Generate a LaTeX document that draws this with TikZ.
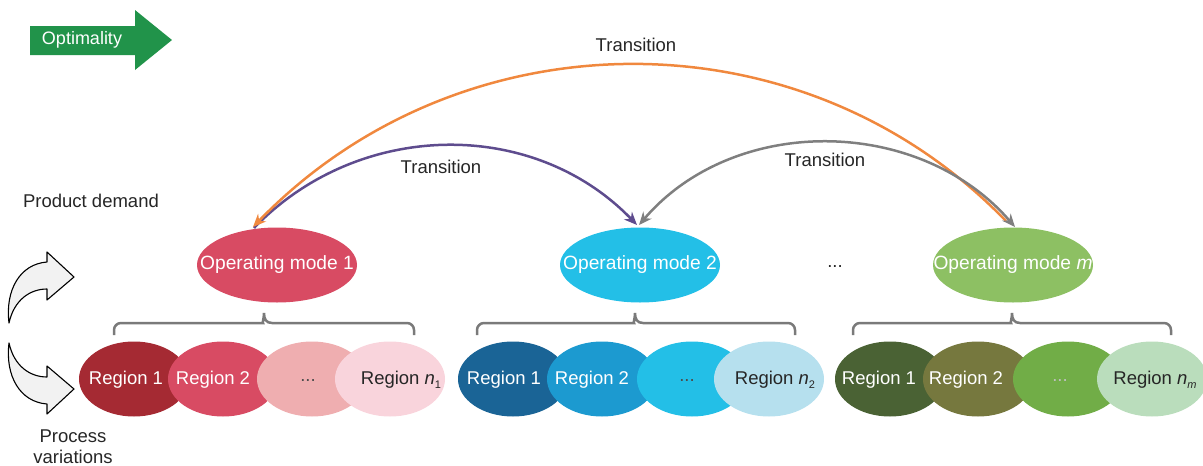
\documentclass[tikz,border=0pt]{standalone}
\usepackage{fontspec}
\setmainfont{Liberation Sans}
\usetikzlibrary{shapes.geometric,arrows.meta}
\definecolor{optgreen}{HTML}{21934A}
\definecolor{mode1}{HTML}{D84B63}
\definecolor{mode2}{HTML}{23BFE7}
\definecolor{modem}{HTML}{8DC063}
\definecolor{ra1}{HTML}{A52A33}
\definecolor{ra2}{HTML}{D84B63}
\definecolor{ra3}{HTML}{EFAEB0}
\definecolor{ra4}{HTML}{F9D4DC}
\definecolor{rb1}{HTML}{1A6496}
\definecolor{rb2}{HTML}{1C9AD0}
\definecolor{rb3}{HTML}{23BFE7}
\definecolor{rb4}{HTML}{B6E0EE}
\definecolor{rc1}{HTML}{4A6234}
\definecolor{rc2}{HTML}{76783E}
\definecolor{rc3}{HTML}{71AD47}
\definecolor{rc4}{HTML}{BADDBC}
\definecolor{purp}{HTML}{5E4C8E}
\definecolor{oran}{HTML}{F0883E}
\definecolor{grayarr}{HTML}{7F7F7F}
\definecolor{bracegray}{HTML}{7A7A7A}
\definecolor{darktxt}{HTML}{262626}
\begin{document}
\begin{tikzpicture}[x=1pt,y=-1pt,
  txt/.style={font=\fontsize{18.5}{22}\selectfont, text=darktxt, inner sep=0},
  wtxt/.style={txt, text=white},
  mtxt/.style={wtxt, font=\fontsize{19.2}{22}\selectfont},
  modeell/.style={ellipse, minimum width=160, minimum height=75, inner sep=0, draw=none},
  regell/.style={ellipse, minimum width=110, minimum height=75, inner sep=0, draw=none},
  trans/.style={line width=2.5, -{Stealth[length=13,width=11]}},
  bracestyle/.style={draw=bracegray, line width=2.5, rounded corners=7},
  bigarrow/.style={draw=black, fill=black!5, line width=1.1, line join=round}
]
\useasboundingbox (0,0) rectangle (1203,466);

% Optimality arrow
\fill[optgreen] (30,26) -- (135,26) -- (135,10) -- (172,40) -- (135,70) -- (135,55) -- (30,55) -- cycle;
\node[wtxt, font=\fontsize{18}{22}\selectfont] (opt) at (82,40) {Optimality};

% left labels and curved arrows
\node[txt] (pd) at (91,201) {Product demand};
\node[txt, align=center] (pv) at (73,447) {Process\\[-1pt]variations};
\path[bigarrow] (9,323) .. controls (5,290) and (20,264) .. (47,262) -- (47,252) -- (74,277) -- (47,300) -- (47,289) .. controls (30,289) and (14,300) .. (9,323) -- cycle;
\path[bigarrow] (9,343) .. controls (5,376) and (20,402) .. (47,404) -- (47,414) -- (74,389) -- (47,366) -- (47,377) .. controls (30,377) and (14,366) .. (9,343) -- cycle;

% operating modes
\node[modeell, fill=mode1] (m1) at (277,265) {};
\node[mtxt] (m1t) at (m1.center) {Operating mode 1};
\node[modeell, fill=mode2] (m2) at (640,265) {};
\node[mtxt] (m2t) at (m2.center) {Operating mode 2};
\node[modeell, fill=modem] (mm) at (1013,265) {};
\node[mtxt] (mmt) at (mm.center) {Operating mode \textit{m}};
\node[txt] (mdots) at (835,267) {...};

% transitions
\coordinate (p1) at (254,228);
\coordinate (p2) at (637,225);
\coordinate (o1) at (253,227);
\coordinate (o2) at (1006,221);
\coordinate (g1) at (639,225);
\coordinate (g2) at (1015,227);
\draw[trans, purp] (p1) .. controls (358,120) and (533,117) .. (p2);
\draw[trans, oran, {Stealth[length=13,width=11]}-] (o1) .. controls (459,14) and (801,9) .. (o2);
\draw[trans, grayarr, {Stealth[length=13,width=11]}-{Stealth[length=13,width=11]}] (g1) .. controls (734,114) and (919,116) .. (g2);
\node[txt] (t1) at (636,45) {Transition};
\node[txt] (t2) at (441,167) {Transition};
\node[txt] (t3) at (825,160) {Transition};

% braces
\draw[bracestyle] (114,335) -- (114,323) -- (256,323) [sharp corners] .. controls (262,323) and (264,319) .. (264,313) .. controls (264,319) and (266,323) .. (272,323) [rounded corners=7] -- (414,323) -- (414,335);
\draw[bracestyle] (477,335) -- (477,323) -- (627,323) [sharp corners] .. controls (633,323) and (635,319) .. (635,313) .. controls (635,319) and (637,323) .. (643,323) [rounded corners=7] -- (795,323) -- (795,335);
\draw[bracestyle] (853,335) -- (853,323) -- (1004,323) [sharp corners] .. controls (1010,323) and (1012,319) .. (1012,313) .. controls (1012,319) and (1014,323) .. (1020,323) [rounded corners=7] -- (1171,323) -- (1171,335);

% group 1 regions
\node[regell, fill=ra1] (a1) at (134,379) {};
\node[wtxt] (a1t) at (126,380) {Region 1};
\node[regell, fill=ra2] (a2) at (223,379) {};
\node[wtxt] (a2t) at (213,380) {Region 2};
\node[regell, fill=ra3] (a3) at (312,379) {};
\node[txt, text=black!70] (a3t) at (308,381) {...};
\node[regell, fill=ra4] (a4) at (390,379) {};
\node[txt] (a4t) at (401,380) {Region \textit{n}\raisebox{-0.45ex}{\fontsize{11}{12}\selectfont 1}};

% group 2 regions
\node[regell, fill=rb1] (b1) at (513,379) {};
\node[wtxt] (b1t) at (504,380) {Region 1};
\node[regell, fill=rb2] (b2) at (602,379) {};
\node[wtxt] (b2t) at (592,380) {Region 2};
\node[regell, fill=rb3] (b3) at (692,379) {};
\node[txt, text=black!70] (b3t) at (687,381) {...};
\node[regell, fill=rb4] (b4) at (769,379) {};
\node[txt] (b4t) at (775,380) {Region \textit{n}\raisebox{-0.45ex}{\fontsize{11}{12}\selectfont 2}};

% group 3 regions
\node[regell, fill=rc1] (c1) at (890,379) {};
\node[wtxt] (c1t) at (879,380) {Region 1};
\node[regell, fill=rc2] (c2) at (978,379) {};
\node[wtxt] (c2t) at (966,380) {Region 2};
\node[regell, fill=rc3] (c3) at (1068,379) {};
\node[txt, text=black!25] (c3t) at (1060,381) {...};
\node[regell, fill=rc4] (c4) at (1152,379) {};
\node[txt] (c4t) at (1155,380) {Region \textit{n}\raisebox{-0.45ex}{\fontsize{11}{12}\selectfont\textit{m}}};
\end{tikzpicture}
\end{document}
